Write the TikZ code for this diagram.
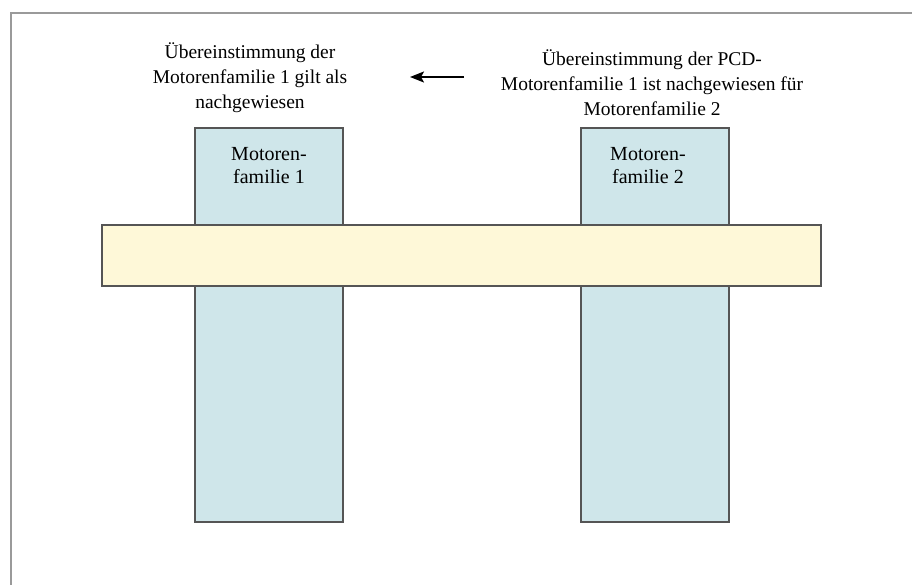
\documentclass[tikz,border=0pt]{standalone}
\usepackage{fontspec}
\setmainfont{Liberation Serif}
\usetikzlibrary{arrows.meta}
\definecolor{frameGray}{HTML}{9A9A9A}
\definecolor{edgeGray}{HTML}{555555}
\definecolor{colBlue}{HTML}{CFE6EA}
\definecolor{barYellow}{HTML}{FEF8D8}
\tikzset{
  column/.style={draw=edgeGray, line width=1.6pt, fill=colBlue, minimum width=148pt, minimum height=394pt, inner sep=0pt, anchor=north west},
  crossbar/.style={draw=edgeGray, line width=1.6pt, fill=barYellow, minimum width=719pt, minimum height=61pt, inner sep=0pt, anchor=north west},
  headtext/.style={align=center, font=\fontsize{19.5pt}{25pt}\selectfont, inner sep=0pt},
  boxtext/.style={align=center, font=\fontsize{20pt}{23pt}\selectfont, inner sep=0pt},
  pointer/.style={line width=2pt, -{Stealth[length=14pt, width=11pt, inset=3pt]}}
}
\begin{document}
\begin{tikzpicture}[x=1pt, y=-1pt]
  \useasboundingbox (0,0) rectangle (912,585);
  \fill[white] (0,0) rectangle (912,585);
  % outer frame, visible on top and left
  \draw[frameGray, line width=2pt] (11,585) -- (11,13) -- (912,13);

  % the two engine-family columns
  \node[column] (col1) at (194,127) {};
  \node[column] (col2) at (580,127) {};
  \node[boxtext] (lab1) at (269,166) {Motoren-\\familie 1};
  \node[boxtext] (lab2) at (648,166) {Motoren-\\familie 2};

  % horizontal bar across both columns
  \node[crossbar] (bar) at (101,224) {};

  % headings
  \node[headtext] (head1) at (250,78) {Übereinstimmung der\\Motorenfamilie 1 gilt als\\nachgewiesen};
  \node[headtext] (head2) at (652,83) {Übereinstimmung der PCD-\\Motorenfamilie 1 ist nachgewiesen für\\Motorenfamilie 2};

  % arrow pointing from the second heading to the first
  \coordinate (arrS) at (464,77);
  \coordinate (arrE) at (410,77);
  \draw[pointer] (arrS) -- (arrE);
\end{tikzpicture}
\end{document}
